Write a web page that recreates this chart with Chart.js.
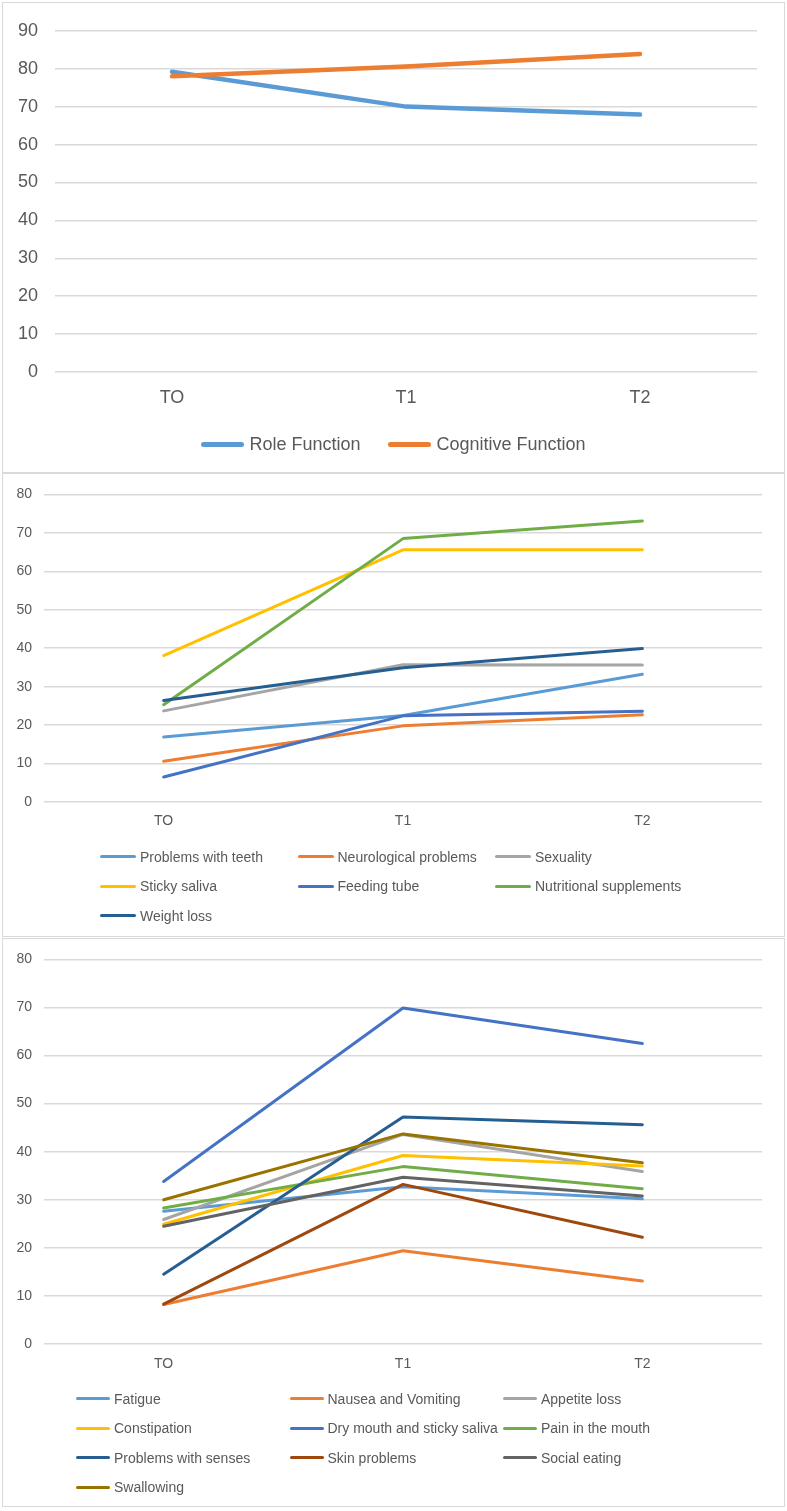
<!DOCTYPE html>
<html>
<head>
<meta charset="utf-8">
<script src="https://cdn.jsdelivr.net/npm/chart.js@4.4.1/dist/chart.umd.min.js"></script>
<style>
    body { margin: 0; background: #ffffff; font-family: "Liberation Sans", Arial, sans-serif; }
    .panel { position: absolute; left: 2px; width: 781px; border: 1px solid #d9d9d9; background: #ffffff; }
    .panel canvas { position: absolute; left: 0; top: 0; }
    .legend { position: absolute; color: #595959; }
    .legend .item { display: flex; align-items: center; white-space: nowrap; }
    .legend .swatch { display: inline-block; border-radius: 3px; }
</style>
</head>
<body>

<div class="panel" id="panel1" style="top:2px; height:469px;"><canvas id="chart1" width="781" height="469"></canvas></div>
<div class="panel" id="panel2" style="top:473px; height:462px;"><canvas id="chart2" width="781" height="462"></canvas></div>
<div class="panel" id="panel3" style="top:938px; height:567px;"><canvas id="chart3" width="781" height="567"></canvas></div>

<script>
"use strict"

const timePoints = ['TO', 'T1', 'T2'];

// panel 1 - functional scales
const roleFunction = [79.2, 70.0, 67.9];
const cognitiveFunction = [78.0, 80.6, 83.9];

// panel 2
const problemsWithTeeth = [16.9, 22.5, 33.2];
const neurologicalProblems = [10.6, 19.8, 22.7];
const sexuality = [23.7, 35.7, 35.6];
const stickySaliva = [38.1, 65.6, 65.6];
const feedingTube = [6.5, 22.4, 23.6];
const nutritionalSupplements = [25.3, 68.5, 73.1];
const weightLoss = [26.4, 34.9, 39.9];

// panel 3
const fatigue = [27.6, 32.7, 30.2];
const nauseaVomiting = [8.2, 19.4, 13.1];
const appetiteLoss = [25.9, 43.6, 35.9];
const constipation = [24.9, 39.2, 37.0];
const dryMouth = [33.8, 69.9, 62.5];
const painInMouth = [28.3, 36.9, 32.3];
const problemsWithSenses = [14.5, 47.2, 45.6];
const skinProblems = [8.3, 33.2, 22.2];
const socialEating = [24.5, 34.7, 30.8];
const swallowing = [30.0, 43.7, 37.7];

const colors = {
    blue: '#5B9BD5', orange: '#ED7D31', gray: '#A5A5A5', gold: '#FFC000',
    royal: '#4472C4', green: '#70AD47', navy: '#255E91', brown: '#9E480E',
    darkGray: '#636363', olive: '#997300'
};

const tickColor = '#595959';
const gridColor = '#d9d9d9';


window.onload = () =>
{
    panelOne();
    panelTwo();
    panelThree();
}


function makeDatasets(series, width)
{
    // later series sit on top, like the original spreadsheet chart
    return series.map((s, i) => ({
        label: s[0],
        data: s[1],
        borderColor: s[2],
        backgroundColor: s[2],
        borderWidth: width,
        pointRadius: 0,
        tension: 0,
        borderCapStyle: 'round',
        borderJoinStyle: 'round',
        order: series.length - i
    }));
}


function makeChart(canvasId, datasets, opt)
{
    return new Chart(document.getElementById(canvasId).getContext('2d'),
    {
        type: 'line',
        data: { labels: timePoints, datasets: datasets },
        options:
        {
            responsive: false,
            animation: false,
            events: [],
            layout: { padding: { left: 0, top: opt.top, right: opt.right, bottom: opt.bottom } },
            plugins: { legend: { display: false }, tooltip: { enabled: false } },
            scales:
            {
                x:
                {
                    offset: true,
                    grid: { display: false, drawTicks: false },
                    border: { display: false },
                    ticks: { color: tickColor, padding: opt.xPad, font: { family: '"Liberation Sans", Arial', size: opt.font } },
                    afterFit: (scale) => { scale.height = opt.xHeight; }
                },
                y:
                {
                    min: 0,
                    max: opt.max,
                    grid: { color: gridColor, lineWidth: 1.5, drawTicks: false },
                    border: { display: false },
                    ticks: { stepSize: 10, color: tickColor, padding: opt.yPad, font: { family: '"Liberation Sans", Arial', size: opt.font } },
                    afterFit: (scale) => { scale.width = opt.yWidth; }
                }
            }
        }
    });
}


function gridLegend(panelId, datasets, opt)
{
    const box = document.createElement('div');
    box.className = 'legend';
    box.style.left = opt.left + 'px';
    box.style.top = opt.top + 'px';
    box.style.display = 'grid';
    box.style.gridTemplateColumns = 'repeat(3, ' + opt.colWidth + 'px)';
    box.style.gridAutoRows = opt.rowHeight + 'px';
    box.style.fontSize = opt.font + 'px';

    datasets.forEach(ds =>
    {
        const item = document.createElement('div');
        item.className = 'item';
        item.innerHTML = '<span class="swatch" style="width:' + opt.lineLen + 'px;height:' + opt.lineW +
                         'px;background:' + ds.borderColor + ';margin-right:' + opt.gap + 'px"></span>' + ds.label;
        box.appendChild(item);
    });

    document.getElementById(panelId).appendChild(box);
}


function panelOne()
{
    const datasets = makeDatasets([
        ['Role Function', roleFunction, colors.blue],
        ['Cognitive Function', cognitiveFunction, colors.orange]
    ], 4.5);

    makeChart('chart1', datasets,
        { top: 24, right: 27, bottom: 60, max: 90, font: 18, xPad: 15, xHeight: 40, yPad: 17, yWidth: 52 });

    // centred single-row legend
    const box = document.createElement('div');
    box.className = 'legend';
    box.style.left = '0px';
    box.style.width = '781px';
    box.style.top = '427px';
    box.style.height = '28px';
    box.style.display = 'flex';
    box.style.justifyContent = 'center';
    box.style.alignItems = 'center';
    box.style.fontSize = '18px';
    box.style.gap = '28px';

    datasets.forEach(ds =>
    {
        const item = document.createElement('div');
        item.className = 'item';
        item.innerHTML = '<span class="swatch" style="width:43px;height:5px;background:' + ds.borderColor +
                         ';margin-right:5px"></span>' + ds.label;
        box.appendChild(item);
    });

    document.getElementById('panel1').appendChild(box);
}


function panelTwo()
{
    const datasets = makeDatasets([
        ['Problems with teeth', problemsWithTeeth, colors.blue],
        ['Neurological problems', neurologicalProblems, colors.orange],
        ['Sexuality', sexuality, colors.gray],
        ['Sticky saliva', stickySaliva, colors.gold],
        ['Feeding tube', feedingTube, colors.royal],
        ['Nutritional supplements', nutritionalSupplements, colors.green],
        ['Weight loss', weightLoss, colors.navy]
    ], 3);

    makeChart('chart2', datasets,
        { top: 20, right: 22, bottom: 104, max: 80, font: 14, xPad: 11, xHeight: 30, yPad: 12, yWidth: 41 });

    gridLegend('panel2', datasets,
        { left: 97, top: 368, colWidth: 197.5, rowHeight: 29.6, font: 14, lineLen: 36, lineW: 3, gap: 4 });
}


function panelThree()
{
    const datasets = makeDatasets([
        ['Fatigue', fatigue, colors.blue],
        ['Nausea and Vomiting', nauseaVomiting, colors.orange],
        ['Appetite loss', appetiteLoss, colors.gray],
        ['Constipation', constipation, colors.gold],
        ['Dry mouth and sticky saliva', dryMouth, colors.royal],
        ['Pain in the mouth', painInMouth, colors.green],
        ['Problems with senses', problemsWithSenses, colors.navy],
        ['Skin problems', skinProblems, colors.brown],
        ['Social eating', socialEating, colors.darkGray],
        ['Swallowing', swallowing, colors.olive]
    ], 3);

    makeChart('chart3', datasets,
        { top: 19, right: 22, bottom: 132, max: 80, font: 14, xPad: 12, xHeight: 30, yPad: 12, yWidth: 41 });

    gridLegend('panel3', datasets,
        { left: 73, top: 445, colWidth: 213.5, rowHeight: 29.5, font: 14, lineLen: 34, lineW: 3, gap: 4 });
}
</script>
</body>
</html>
